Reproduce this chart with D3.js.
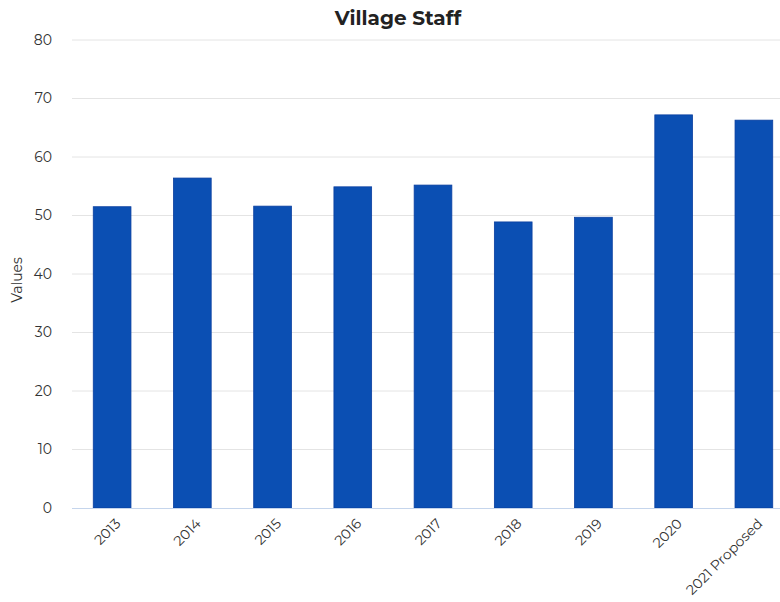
<!DOCTYPE html>
<html><head><meta charset="utf-8">
<script src="https://cdn.jsdelivr.net/npm/d3@7"></script>
<style>body{margin:0;background:#fff;}svg{display:block;}</style>
</head><body>
<svg id="c" width="780" height="602"></svg>
<script>
const categories = ["2013","2014","2015","2016","2017","2018","2019","2020","2021 Proposed"];
const values = [51.5, 56.4, 51.6, 54.9, 55.2, 48.9, 49.7, 67.2, 66.3];
const yTicks = [0,10,20,30,40,50,60,70,80];
const title = "Village Staff";
const yLabel = "Values";

const svg = d3.select("#c");
const font = "Montserrat, 'Open Sans', 'Noto Sans', sans-serif";
const x = d3.scaleBand().domain(categories).range([72, 794]).paddingInner(0.53).paddingOuter(0.265);
const y = d3.scaleLinear().domain([0, 80]).range([508, 40]);

// gridlines
svg.append("g").selectAll("line").data(yTicks.filter(d=>d>0)).join("line")
  .attr("x1", 72).attr("x2", 780)
  .attr("y1", d=>y(d)).attr("y2", d=>y(d))
  .attr("stroke", "#e4e4e4").attr("stroke-width", 1);

// y axis labels
const ya = svg.append("g").attr("transform","translate(52,0)")
  .call(d3.axisLeft(y).tickValues(yTicks).tickSize(0).tickPadding(0));
ya.select(".domain").remove();
ya.selectAll("text").attr("font-family", font).attr("font-size", 14).attr("fill", "#333");

// bars
svg.append("g").selectAll("rect").data(values).join("rect")
  .attr("x", (d,i)=>x(categories[i]))
  .attr("width", x.bandwidth())
  .attr("y", d=>y(d))
  .attr("height", d=>y(0)-y(d))
  .attr("fill", "#0b4fb3")
  .attr("stroke", "#0a3fa0").attr("stroke-width", 0.8);

// baseline
svg.append("line").attr("x1",72).attr("x2",780).attr("y1",y(0)+0.5).attr("y2",y(0)+0.5)
  .attr("stroke","#c5d5ec").attr("stroke-width",1);

// x axis labels
const xa = svg.append("g").attr("transform", `translate(0,${y(0)})`)
  .call(d3.axisBottom(x).tickSize(0).tickPadding(0));
xa.select(".domain").remove();
xa.selectAll("text")
  .attr("font-family", font).attr("font-size", 14).attr("fill", "#333")
  .attr("text-anchor","end")
  .attr("transform","translate(6,13) rotate(-45)")
  .attr("dy","0.35em").attr("y",0);

// title
svg.append("text").attr("x", 398).attr("y", 25).attr("text-anchor","middle")
  .attr("font-family", font).attr("font-weight","bold").attr("font-size", 20).attr("fill","#222")
  .text(title);

// y label
svg.append("text").attr("transform","translate(22,280) rotate(-90)").attr("text-anchor","middle")
  .attr("font-family", font).attr("font-size", 14).attr("fill","#333").text(yLabel);
</script>
</body></html>
